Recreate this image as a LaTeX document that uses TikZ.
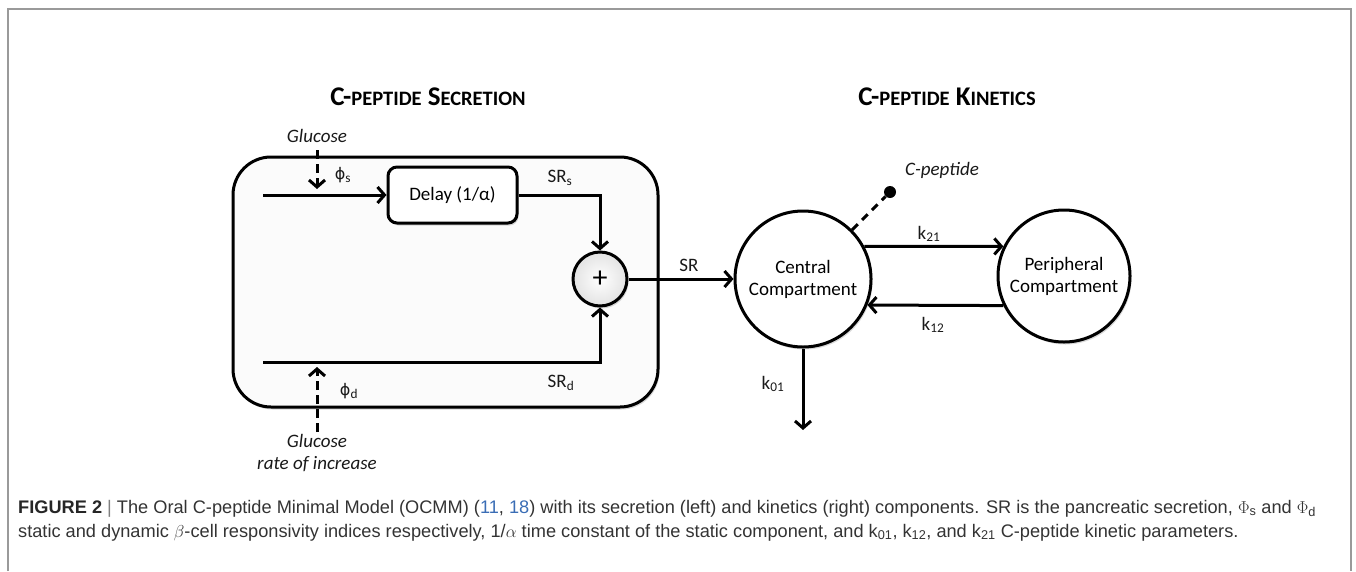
\documentclass[tikz,border=0pt]{standalone}
\usepackage{fontspec}
\setmainfont{Carlito}
\newfontfamily\capfont{Liberation Sans}
\newfontfamily\phifont{DejaVu Sans}
\usetikzlibrary{arrows.meta,shadows,calc}
\definecolor{framegray}{HTML}{9A9A9A}
\definecolor{captxt}{HTML}{333333}
\definecolor{linkblue}{HTML}{3A6DB5}
\newcommand\fsc[1]{{\fontsize{20.5}{21}\selectfont #1}}
\newcommand\myphi{{\phifont\fontsize{16}{16}\selectfont ϕ}}
\begin{document}
\begin{tikzpicture}[x=1pt,y=-1pt,
  conn/.style={line width=3pt, -{Straight Barb[length=7pt,width=16pt]}},
  plainline/.style={line width=3pt},
  dashconn/.style={conn, dash pattern=on 9pt off 5pt},
  lbl/.style={font=\fontsize{19}{22}\selectfont, inner sep=0pt, text=black!90},
  ilbl/.style={lbl, font=\fontsize{19}{22}\selectfont\itshape},
  softshadow/.style={drop shadow={opacity=0.3,shadow xshift=1.5pt,shadow yshift=-2.5pt}},
  bigbox/.style={draw, line width=3pt, rounded corners=38pt, fill=gray!3, softshadow,
    minimum width=425pt, minimum height=250pt},
  delaybox/.style={draw, line width=3pt, rounded corners=9pt, fill=white, softshadow,
    minimum width=129pt, minimum height=56pt, font=\fontsize{19}{22}\selectfont},
  sumc/.style={circle, draw, line width=3pt, inner color=white, outer color=gray!22, softshadow,
    minimum size=54pt, inner sep=0pt, font=\fontsize{30}{30}\selectfont},
  comp/.style={circle, draw, line width=3pt, fill=white, softshadow, align=center,
    inner sep=0pt, font=\fontsize{19}{22}\selectfont},
  dotstyle/.style={circle, fill=black, minimum size=12pt, inner sep=0pt},
  titlestyle/.style={font=\fontsize{27}{28}\selectfont\bfseries, inner sep=0pt},
  capstyle/.style={font=\capfont\fontsize{18.2}{20}\selectfont, text=captxt, inner sep=0pt}
]
\useasboundingbox (0,0) rectangle (1356,571);
% frame
\draw[framegray, line width=1.5pt] (8,571) -- (8,9) -- (1351,9) -- (1351,571);

% titles
\node[titlestyle, anchor=base] (t1) at (428,105.5) {C-\fsc{PEPTIDE} S\fsc{ECRETION}};
\node[titlestyle, anchor=base] (t2) at (947,105.5) {C-\fsc{PEPTIDE} K\fsc{INETICS}};

% secretion block
\node[bigbox] (sec) at (445.5,282) {};
\node[delaybox] (delay) at (452.5,195) {Delay (1/α)};
\node[sumc] (sum) at (600,279) {+};
\coordinate (in1) at (263,195);
\coordinate (in2) at (263,362);
\draw[conn] (in1) -- (delay.west);
\draw[conn] (delay.east) -| (sum.north);
\draw[conn] (in2) -| (sum.south);

% glucose inputs
\node[ilbl] (glu1) at (317,136) {Glucose};
\coordinate (g1s) at (317,150);
\coordinate (g1e) at (317,189);
\draw[dashconn] (g1s) -- (g1e);
\node[ilbl, align=center] (glu2) at (317,453) {Glucose\\rate of increase};
\coordinate (g2s) at (317,432);
\coordinate (g2e) at (317,367);
\draw[dashconn] (g2s) -- (g2e);

\node[lbl] (phis) at (343,175) {\myphi\textsubscript{s}};
\node[lbl] (phid) at (349,391) {\myphi\textsubscript{d}};
\node[lbl] (srs) at (560,178) {SR\textsubscript{s}};
\node[lbl] (srd) at (561,383) {SR\textsubscript{d}};

% kinetics
\node[comp, minimum size=136pt] (central) at (803,279) {Central\\Compartment};
\node[comp, minimum size=132pt] (periph) at (1064,276) {Peripheral\\Compartment};
\draw[conn] (sum.east) -- (central.west);
\node[lbl] (srl) at (689,265) {SR};
\draw[conn] (central.28) -- (periph.154);
\draw[conn] (periph.206) -- (central.-22.5);
\node[lbl] (k21) at (929,234) {k\textsubscript{21}};
\node[lbl] (k12) at (933,325) {k\textsubscript{12}};
\coordinate (kout) at (803,430);
\draw[conn] (central.south) -- (kout);
\node[lbl] (k01) at (773,384) {k\textsubscript{01}};
\node[dotstyle] (cdot) at (890,192) {};
\draw[plainline, dash pattern=on 8pt off 6pt] (central.45) -- (cdot);
\node[ilbl] (cpep) at (942,170) {C-peptide};

% caption
\node[capstyle, anchor=base west] (cap1) at (18,513) {{\bfseries\color{black!85}FIGURE 2} {\color{gray}|} The Oral C-peptide Minimal Model (OCMM) ({\color{linkblue}11}, {\color{linkblue}18}) with its secretion (left) and kinetics (right) components. SR is the pancreatic secretion, $\Phi$\textsubscript{s} and $\Phi$\textsubscript{d}};
\node[capstyle, anchor=base west] (cap2) at (18,537) {static and dynamic $\beta$-cell responsivity indices respectively, 1/$\alpha$ time constant of the static component, and k\textsubscript{01}, k\textsubscript{12}, and k\textsubscript{21} C-peptide kinetic parameters.};
\end{tikzpicture}
\end{document}
